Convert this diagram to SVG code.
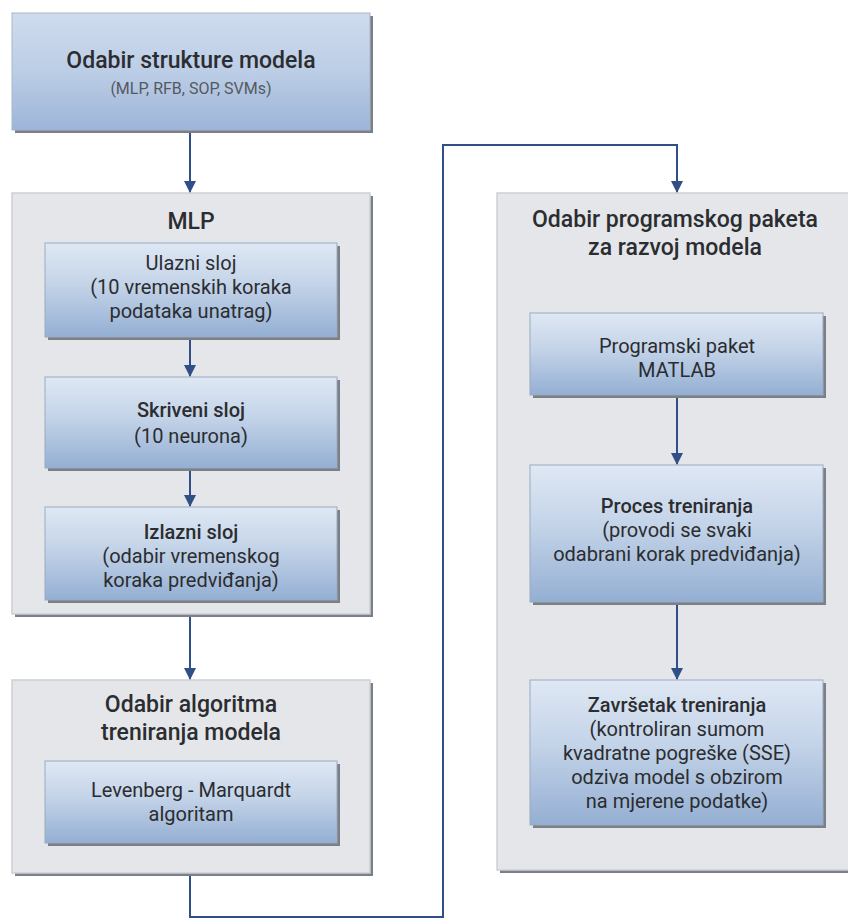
<svg xmlns="http://www.w3.org/2000/svg" width="848" height="922" viewBox="0 0 848 922">
<defs>
<linearGradient id="gBox" x1="0" y1="0" x2="0" y2="1">
<stop offset="0" stop-color="#dfe8f4"/>
<stop offset="0.45" stop-color="#c3d3e8"/>
<stop offset="1" stop-color="#94afd3"/>
</linearGradient>
<linearGradient id="gTop" x1="0" y1="0" x2="0" y2="1">
<stop offset="0" stop-color="#cfdcee"/>
<stop offset="0.5" stop-color="#bccde6"/>
<stop offset="1" stop-color="#9cb5d8"/>
</linearGradient>
<marker id="arr" viewBox="0 0 12 12" refX="11" refY="6" markerWidth="12" markerHeight="12" markerUnits="userSpaceOnUse" orient="auto">
<path d="M0,0 L12,6 L0,12 z" fill="#2f4f86"/>
</marker>
</defs>
<style>
.cont{fill:#e4e6ea;stroke:#cdd0d5;stroke-width:1.5}
.sh{fill:#7b8088}
.box{fill:url(#gBox);stroke:#9aaac0;stroke-width:1}
.tb{fill:url(#gTop);stroke:#a9b7ca;stroke-width:1}
text{font-family:Roboto,"Noto Sans",sans-serif;text-anchor:middle;fill:#2b2d30}
.t{font-size:20px}
.tb19{font-size:20px;font-weight:500}
.h{font-size:23px;font-weight:500}
.sub{font-size:16px;fill:#55595f}
.c{fill:none;stroke:#2f4f86;stroke-width:2}
</style>
<rect width="848" height="922" fill="#ffffff"/>

<g id="struktura">
<rect class="sh" x="15" y="16" width="358" height="117"/>
<rect class="tb" x="12" y="13" width="358" height="117"/>
<text class="h" x="191" y="68">Odabir strukture modela</text>
<text class="sub" x="191" y="94">(MLP, RFB, SOP, SVMs)</text>
</g>

<g id="mlp">
<rect class="sh" x="15" y="196" width="358" height="421"/>
<rect class="cont" x="12" y="193" width="358" height="421"/>
<text class="h" x="191" y="229">MLP</text>
</g>

<g id="ulazni">
<rect class="sh" x="48" y="246" width="292" height="94"/>
<rect class="box" x="45" y="243" width="292" height="94"/>
<text class="t" x="191" y="270">Ulazni sloj</text>
<text class="t" x="191" y="294">(10 vremenskih koraka</text>
<text class="t" x="191" y="318">podataka unatrag)</text>
</g>

<g id="skriveni">
<rect class="sh" x="48" y="380" width="292" height="91"/>
<rect class="box" x="45" y="377" width="292" height="91"/>
<text class="tb19" x="191" y="417">Skriveni sloj</text>
<text class="t" x="191" y="443">(10 neurona)</text>
</g>

<g id="izlazni">
<rect class="sh" x="48" y="510" width="292" height="93"/>
<rect class="box" x="45" y="507" width="292" height="93"/>
<text class="tb19" x="191" y="539">Izlazni sloj</text>
<text class="t" x="191" y="563">(odabir vremenskog</text>
<text class="t" x="191" y="587">koraka predviđanja)</text>
</g>

<g id="algoritam">
<rect class="sh" x="15" y="683" width="358" height="193"/>
<rect class="cont" x="12" y="680" width="358" height="193"/>
<text class="h" x="191" y="712">Odabir algoritma</text>
<text class="h" x="191" y="740">treniranja modela</text>
</g>

<g id="levenberg">
<rect class="sh" x="48" y="764" width="292" height="82"/>
<rect class="box" x="45" y="761" width="292" height="82"/>
<text class="t" x="191" y="797">Levenberg - Marquardt</text>
<text class="t" x="191" y="821">algoritam</text>
</g>

<g id="paket">
<rect class="sh" x="500" y="196" width="352" height="677"/>
<rect class="cont" x="497" y="193" width="355" height="677"/>
<text class="h" x="675" y="227">Odabir programskog paketa</text>
<text class="h" x="675" y="255">za razvoj modela</text>
</g>

<g id="matlab">
<rect class="sh" x="533" y="316" width="293" height="82"/>
<rect class="box" x="530" y="313" width="293" height="82"/>
<text class="t" x="677" y="353">Programski paket</text>
<text class="t" x="677" y="377">MATLAB</text>
</g>

<g id="proces">
<rect class="sh" x="533" y="468" width="293" height="137"/>
<rect class="box" x="530" y="465" width="293" height="137"/>
<text class="tb19" x="677" y="513">Proces treniranja</text>
<text class="t" x="677" y="537">(provodi se svaki</text>
<text class="t" x="677" y="561">odabrani korak predviđanja)</text>
</g>

<g id="zavrsetak">
<rect class="sh" x="533" y="683" width="293" height="145"/>
<rect class="box" x="530" y="680" width="293" height="145"/>
<text class="tb19" x="677" y="712">Završetak treniranja</text>
<text class="t" x="677" y="736">(kontroliran sumom</text>
<text class="t" x="677" y="760">kvadratne pogreške (SSE)</text>
<text class="t" x="677" y="784">odziva model s obzirom</text>
<text class="t" x="677" y="808">na mjerene podatke)</text>
</g>

<g id="connectors">
<line class="c" x1="190" y1="133" x2="190" y2="192" marker-end="url(#arr)"/>
<line class="c" x1="190" y1="340" x2="190" y2="376" marker-end="url(#arr)"/>
<line class="c" x1="190" y1="471" x2="190" y2="506" marker-end="url(#arr)"/>
<line class="c" x1="190" y1="617" x2="190" y2="679" marker-end="url(#arr)"/>
<polyline class="c" points="190,876 190,917 443,917 443,145 677,145 677,192" marker-end="url(#arr)"/>
<line class="c" x1="677" y1="398" x2="677" y2="464" marker-end="url(#arr)"/>
<line class="c" x1="677" y1="605" x2="677" y2="679" marker-end="url(#arr)"/>
</g>
</svg>
